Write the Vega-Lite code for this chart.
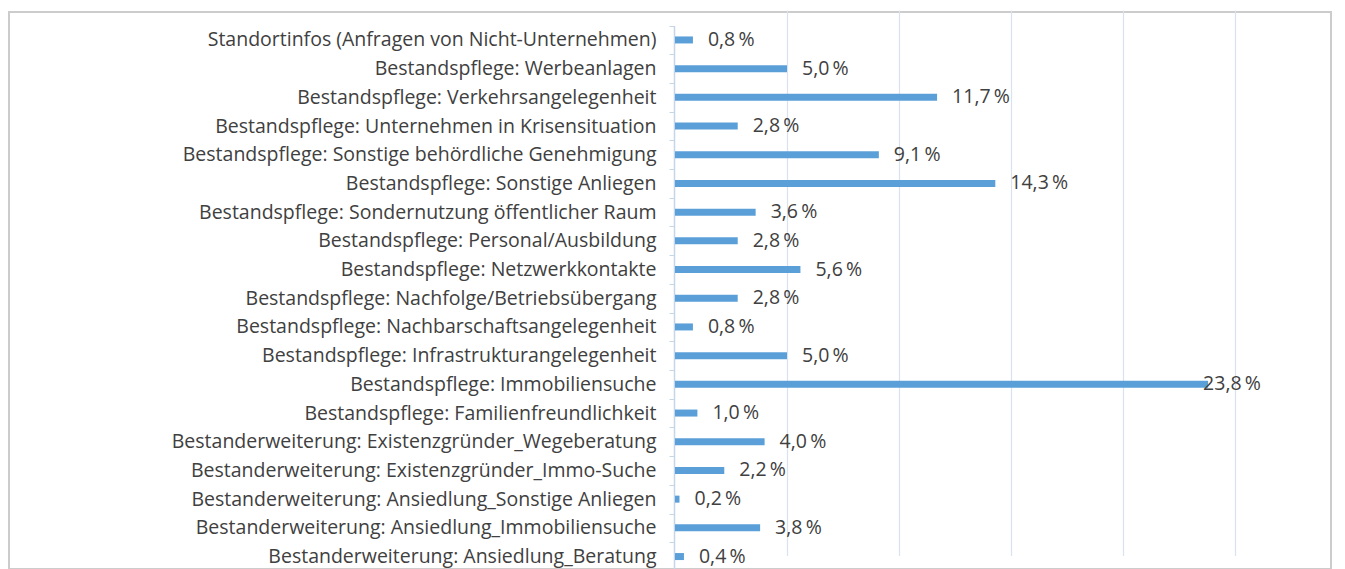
{
  "$schema": "https://vega.github.io/schema/vega-lite/v6.json",
  "width": 1322,
  "height": 557,
  "padding": {"left": 9, "top": 12, "right": 14, "bottom": 0},
  "autosize": {"type": "none"},
  "background": "white",
  "config": {
    "view": {"stroke": "#cccccc", "strokeWidth": 2},
    "font": "Open Sans"
  },
  "data": {
    "values": [
      {"kategorie": "Standortinfos (Anfragen von Nicht-Unternehmen)", "anteil": 0.8},
      {"kategorie": "Bestandspflege: Werbeanlagen", "anteil": 5.0},
      {"kategorie": "Bestandspflege: Verkehrsangelegenheit", "anteil": 11.7},
      {"kategorie": "Bestandspflege: Unternehmen in Krisensituation", "anteil": 2.8},
      {"kategorie": "Bestandspflege: Sonstige behördliche Genehmigung", "anteil": 9.1},
      {"kategorie": "Bestandspflege: Sonstige Anliegen", "anteil": 14.3},
      {"kategorie": "Bestandspflege: Sondernutzung öffentlicher Raum", "anteil": 3.6},
      {"kategorie": "Bestandspflege: Personal/Ausbildung", "anteil": 2.8},
      {"kategorie": "Bestandspflege: Netzwerkkontakte", "anteil": 5.6},
      {"kategorie": "Bestandspflege: Nachfolge/Betriebsübergang", "anteil": 2.8},
      {"kategorie": "Bestandspflege: Nachbarschaftsangelegenheit", "anteil": 0.8},
      {"kategorie": "Bestandspflege: Infrastrukturangelegenheit", "anteil": 5.0},
      {"kategorie": "Bestandspflege: Immobiliensuche", "anteil": 23.8},
      {"kategorie": "Bestandspflege: Familienfreundlichkeit", "anteil": 1.0},
      {"kategorie": "Bestanderweiterung: Existenzgründer_Wegeberatung", "anteil": 4.0},
      {"kategorie": "Bestanderweiterung: Existenzgründer_Immo-Suche", "anteil": 2.2},
      {"kategorie": "Bestanderweiterung: Ansiedlung_Sonstige Anliegen", "anteil": 0.2},
      {"kategorie": "Bestanderweiterung: Ansiedlung_Immobiliensuche", "anteil": 3.8},
      {"kategorie": "Bestanderweiterung: Ansiedlung_Beratung", "anteil": 0.4}
    ]
  },
  "transform": [
    {"calculate": "replace(format(datum.anteil, '.1f'), '.', ',') + '\u2009%'", "as": "label"}
  ],
  "encoding": {
    "y": {
      "field": "kategorie",
      "type": "nominal",
      "sort": null,
      "scale": {"range": [13.6, 558.9], "paddingInner": 0, "paddingOuter": 0},
      "axis": {
        "title": null,
        "offset": -665,
        "labelLimit": 700,
        "labelFontSize": 19.5,
        "labelColor": "#404040",
        "labelPadding": 13,
        "tickBand": "extent",
        "tickSize": 5,
        "tickColor": "#c5d6ea",
        "domainColor": "#c5d6ea",
        "domainWidth": 1.5,
        "grid": false
      }
    }
  },
  "layer": [
    {
      "mark": {"type": "bar", "color": "#5b9fd8", "size": 7},
      "encoding": {
        "x": {
          "field": "anteil",
          "type": "quantitative",
          "scale": {"domain": [0, 25], "range": [666, 1226], "nice": false},
          "axis": {
            "title": null,
            "labels": false,
            "ticks": false,
            "domain": false,
            "values": [5, 10, 15, 20, 25],
            "grid": true,
            "gridColor": "#d9e2ee",
            "gridWidth": 1.2
          }
        }
      }
    },
    {
      "transform": [{"filter": "datum.anteil < 20"}],
      "mark": {"type": "text", "align": "left", "baseline": "middle", "dx": 15, "fontSize": 19.5, "color": "#404040"},
      "encoding": {
        "x": {"field": "anteil", "type": "quantitative"},
        "text": {"field": "label"}
      }
    },
    {
      "transform": [{"filter": "datum.anteil >= 20"}],
      "mark": {"type": "text", "align": "left", "baseline": "middle", "dx": -5, "fontSize": 19.5, "color": "#404040"},
      "encoding": {
        "x": {"field": "anteil", "type": "quantitative"},
        "text": {"field": "label"}
      }
    }
  ]
}
